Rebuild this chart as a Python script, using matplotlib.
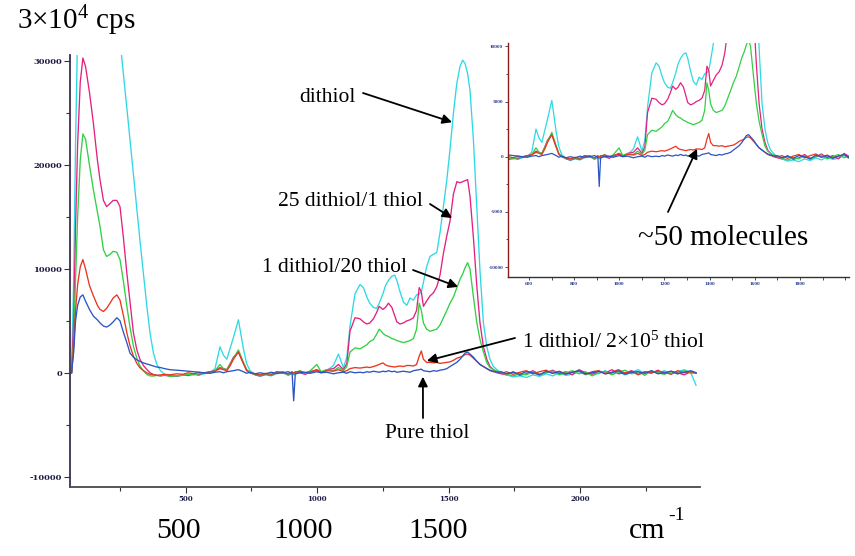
import matplotlib
matplotlib.use('Agg')
import matplotlib.pyplot as plt
from matplotlib.ticker import MultipleLocator

plt.rcParams['mathtext.fontset'] = 'custom'
plt.rcParams['mathtext.rm'] = 'Liberation Serif'
plt.rcParams['mathtext.it'] = 'Liberation Serif:italic'
plt.rcParams['mathtext.bf'] = 'Liberation Serif:bold'

# ---------------- data ----------------
wavenumber = [
    67, 75, 82, 90, 100, 110, 120, 135, 150, 165,
    175, 188, 200, 213, 225, 239, 251, 264, 277, 289,
    302, 315, 327, 340, 353, 365, 378, 391, 405, 420,
    440, 467, 490, 510, 530, 550, 570, 593, 612, 631,
    644, 657, 670, 682, 701, 720, 732, 745, 765, 783,
    805, 825, 847, 870, 890, 905, 911, 917, 935, 955,
    974, 999, 1015, 1037, 1062, 1081, 1100, 1113, 1125, 1144,
    1163, 1176, 1189, 1200, 1214, 1226, 1236, 1250, 1260, 1271,
    1284, 1295, 1303, 1315, 1328, 1341, 1353, 1366, 1378, 1388,
    1396, 1404, 1416, 1429, 1442, 1455, 1467, 1480, 1493, 1505,
    1518, 1531, 1543, 1553, 1562, 1572, 1581, 1594, 1607, 1619,
    1632, 1645, 1657, 1670, 1683, 1700, 1720, 1745, 1770, 1795,
    1820, 1845, 1870, 1895, 1920, 1945, 1970, 1995, 2020, 2045,
    2070, 2095, 2120, 2145, 2170, 2195, 2220, 2245, 2270, 2295,
    2320, 2345, 2370, 2395, 2420, 2440,
]

dithiol = [
    0, 9000, 22000, 33000, 42000, 48000, 52000, 54000, 55000, 54000,
    52000, 49000, 45000, 41000, 37000, 34000, 32000, 28800, 25500, 22400,
    19100, 15800, 12700, 9600, 6400, 3850, 1900, 800, 200, -150,
    -300, -350, -200, -280, -150, -250, -100, 0, 400, 2500,
    1700, 1300, 2400, 3400, 5100, 2300, 900, 200, -200, -350,
    -200, -300, -100, 0, -250, -100, -200, -150, 100, -100,
    0, 300, 100, 200, 700, 1800, 500, 1500, 4500, 7600,
    8500, 8200, 7300, 6700, 6300, 6200, 6700, 7600, 8400, 8900,
    9300, 9400, 8900, 7800, 6800, 6500, 7200, 7000, 7500, 7600,
    7800, 8700, 10200, 11200, 11400, 11600, 13500, 16000, 18600, 21500,
    25000, 27900, 29500, 30100, 29800, 28800, 27200, 22400, 15800, 9800,
    4800, 2500, 1280, 600, 300, 0, -200, -400, -300, -450,
    -200, -350, -100, -300, 0, -250, -150, 100, -200, 0,
    -100, 200, -150, 100, -200, 50, 300, -100, 150, -50,
    200, -100, 100, 300, 0, -1200,
]

dithiol_25_thiol_1 = [
    0, 5000, 14000, 22000, 28000, 30300, 29500, 27000, 24000, 20500,
    18600, 16600, 16000, 16300, 16600, 16600, 16000, 13000, 9600, 6800,
    3850, 2200, 1280, 700, 320, 0, -160, -250, -300, -250,
    -300, -320, -200, -250, -100, -200, 0, 100, 200, 500,
    400, 300, 900, 1500, 2000, 900, 300, 0, -200, -300,
    -150, -250, 0, 100, -200, 0, -100, 100, 0, -150,
    100, 200, 0, 300, 400, 800, 300, 900, 4000, 5300,
    5200, 4900, 4700, 4800, 5200, 5800, 6400, 6100, 6300, 6700,
    6300, 5500, 4900, 4700, 4800, 5000, 5100, 5300, 6000, 8200,
    7800, 6400, 6900, 7400, 7700, 8300, 9400, 11500, 13200, 14600,
    17200, 18400, 18300, 18400, 18500, 18600, 17000, 13000, 8300, 4800,
    2500, 1280, 600, 300, 0, -100, -200, 100, -250, -100,
    200, -150, 0, 250, -100, 100, -200, 300, 0, -150,
    150, -50, 300, -100, 0, 200, -150, 100, -50, 250,
    -100, 150, 0, -200, 100, 0,
]

dithiol_1_thiol_20 = [
    0, 3000, 9000, 15000, 20500, 23000, 22500, 20000, 17600, 15500,
    14100, 11850, 11200, 11400, 11700, 11600, 10900, 8800, 6400, 4400,
    2560, 1400, 640, 200, -160, -300, -320, -250, -300, -200,
    -350, -300, -250, -150, -200, -100, -50, 0, 200, 800,
    400, 300, 800, 1400, 2200, 1000, 300, 0, -150, -250,
    -100, -200, 100, 0, -150, 50, -100, 0, 200, -50,
    200, 800, 100, 300, 200, 500, 200, 600, 2000, 2400,
    2300, 2500, 2700, 3000, 3200, 3700, 4200, 3800, 3600, 3500,
    3300, 3200, 3100, 3000, 2900, 3000, 3100, 3300, 4200, 6700,
    6000, 4800, 4200, 4000, 4100, 4200, 4600, 5300, 6000, 6700,
    7300, 8200, 9000, 9500, 10100, 10600, 10000, 7300, 4800, 3200,
    2000, 960, 500, 300, 160, 0, -150, -300, -100, -200,
    100, -250, 50, 150, -200, 0, 200, -100, 100, -300,
    0, 150, -200, 50, 250, -100, 100, -250, 200, 0,
    -150, 100, -100, 200, -50, 0,
]

dithiol_1_thiol_2e5 = [
    0, 2500, 6000, 8500, 10200, 10900, 10000, 8400, 7400, 6500,
    6100, 5900, 6200, 6700, 7200, 7500, 7000, 5500, 3850, 2600,
    1600, 900, 480, 200, 0, -150, -200, -250, -200, -150,
    -200, -100, -150, 0, -100, 50, -50, 100, 150, 400,
    300, 200, 700, 1300, 2000, 900, 200, 0, -100, -200,
    -50, -150, 100, 0, -100, 100, -50, 50, 150, 0,
    100, 300, 50, 200, 150, 300, 100, 200, 400, 500,
    450, 500, 550, 500, 600, 700, 800, 950, 750, 650,
    600, 550, 600, 650, 600, 700, 700, 650, 800, 1600,
    2100, 1300, 1000, 1000, 950, 1000, 900, 950, 1000, 1050,
    1200, 1400, 1500, 1600, 1750, 1800, 1700, 1400, 1100, 800,
    600, 400, 200, 100, 50, -50, 100, -150, 50, 200,
    -100, 100, 250, -50, 150, -100, 50, 200, -150, 100,
    200, -100, 50, 300, -50, 150, -200, 100, 0, 150,
    50, -150, 200, 0, 100, -50,
]

pure_thiol = [
    0, 2000, 5000, 6500, 7300, 7500, 6900, 6100, 5450, 5100,
    4800, 4500, 4400, 4600, 4900, 5300, 5000, 3900, 2900, 1900,
    1500, 1250, 1100, 950, 850, 750, 650, 550, 500, 400,
    300, 250, 200, 150, 100, 50, 0, -50, 50, 100,
    0, 100, 150, 200, 300, 100, -50, 50, -100, 0,
    -100, 50, -50, 0, 100, -50, -2700, -100, 0, 50,
    -50, 100, 0, 50, -100, 0, 50, -50, 100, 0,
    50, 0, 100, 50, 150, 100, 50, 150, 100, 200,
    100, 150, 50, 100, 150, 100, 50, 200, 250, 300,
    350, 200, 150, 100, 200, 150, 250, 300, 400, 600,
    800, 1000, 1300, 1600, 1900, 2000, 1800, 1500, 1100, 800,
    600, 400, 250, 150, 50, 100, -100, 50, -150, 100,
    0, -200, 150, -50, 100, -150, 50, 200, -100, 0,
    150, -100, 0, 200, -150, 50, 100, -50, 200, -100,
    0, 150, -100, 50, 200, 0,
]

series_names = ['dithiol', '25 dithiol/1 thiol', '1 dithiol/20 thiol',
                '1 dithiol/ 2×10$^{5}$ thiol', 'Pure thiol']
series_values = [dithiol, dithiol_25_thiol_1, dithiol_1_thiol_20,
                 dithiol_1_thiol_2e5, pure_thiol]
series_colors = ['#2ed9e4', '#e4217f', '#33cf45', '#e8361f', '#2a55c4']

main_yticks = [-10000, 0, 10000, 20000, 30000]
main_xticks = [500, 1000, 1500, 2000]
inset_yticks = [-10000, -5000, 0, 5000, 10000]
inset_xticks = [600, 800, 1000, 1200, 1400, 1600, 1800]
big_x_labels = ['500', '1000', '1500']

SERIF = 'Liberation Serif'
W, H = 855, 556


def fx(px):
    return px / W


def fy(py):
    return 1 - py / H


fig = plt.figure(figsize=(8.55, 5.56), dpi=100)
fig.patch.set_facecolor('white')

# ---------------- main axes ----------------
ax = fig.add_axes([fx(70), fy(487), (700 - 70) / W, (487 - 55) / H])
for vals, col in zip(series_values, series_colors):
    ax.plot(wavenumber, vals, color=col, lw=0.95, solid_joinstyle='round')
ax.set_xlim(61, 2455)
ax.set_ylim(-11000, 30600)
for s in ['top', 'right']:
    ax.spines[s].set_visible(False)
ax.spines['left'].set_color('#3a3052')
ax.spines['bottom'].set_color('#4a4a4a')
ax.spines['left'].set_linewidth(1.3)
ax.spines['bottom'].set_linewidth(1.3)
ax.set_yticks(main_yticks)
ax.set_yticklabels([str(v) for v in main_yticks])
ax.yaxis.set_minor_locator(MultipleLocator(5000))
ax.set_xticks(main_xticks)
ax.set_xticklabels([str(v) for v in main_xticks])
ax.xaxis.set_minor_locator(MultipleLocator(250))
ax.tick_params(axis='both', which='major', direction='out', length=4, width=0.8,
               color='#333', pad=1.5)
ax.tick_params(axis='both', which='minor', direction='out', length=3, width=0.8,
               color='#333')
for lab in ax.get_yticklabels():
    lab.set_fontfamily('DejaVu Serif')
    lab.set_fontweight('bold')
    lab.set_fontsize(6)
    lab.set_color('#1c1c44')
for lab in ax.get_xticklabels():
    lab.set_fontfamily('DejaVu Serif')
    lab.set_fontweight('bold')
    lab.set_fontsize(5)
    lab.set_color('#1c1c44')

# ---------------- inset axes ----------------
axi = fig.add_axes([fx(508), fy(277), (849 - 508) / W, (277 - 43) / H])
axi.patch.set_alpha(0)
for vals, col in zip(series_values, series_colors):
    axi.plot(wavenumber, vals, color=col, lw=0.9, solid_joinstyle='round')
axi.set_xlim(507, 2017)
axi.set_ylim(-10900, 10300)
for s in ['top', 'right']:
    axi.spines[s].set_visible(False)
axi.spines['left'].set_color('#8a1c1c')
axi.spines['bottom'].set_color('#333')
axi.spines['left'].set_linewidth(1.0)
axi.spines['bottom'].set_linewidth(1.0)
axi.set_yticks(inset_yticks)
axi.set_yticklabels([str(v) for v in inset_yticks])
axi.yaxis.set_minor_locator(MultipleLocator(2500))
axi.set_xticks(inset_xticks)
axi.set_xticklabels([str(v) for v in inset_xticks])
axi.xaxis.set_minor_locator(MultipleLocator(100))
axi.tick_params(axis='both', which='major', direction='out', length=2.5, width=0.6,
                color='#333', pad=1)
axi.tick_params(axis='both', which='minor', direction='out', length=1.8, width=0.6,
                color='#333')
for lab in axi.get_yticklabels() + axi.get_xticklabels():
    lab.set_fontfamily('DejaVu Serif')
    lab.set_fontweight('bold')
    lab.set_fontsize(2.8)
    lab.set_color('#2a3a90')

# ---------------- texts ----------------
fig.text(fx(17), fy(21), '3×10$^{4}$ cps', fontsize=21, family=SERIF,
         ha='left', va='center')
for lab, px in zip(big_x_labels, [178, 303, 438]):
    fig.text(fx(px), fy(531), lab, fontsize=21.5, family=SERIF, ha='center', va='center')
fig.text(fx(629), fy(531), 'cm', fontsize=21.5, family=SERIF, ha='left', va='center')
fig.text(fx(668), fy(515), '-1', fontsize=14, family=SERIF, ha='left', va='center')

label_fs = 15.5
fig.text(fx(327), fy(97), series_names[0], fontsize=label_fs, family=SERIF,
         ha='center', va='center')
fig.text(fx(350), fy(202), series_names[1], fontsize=label_fs, family=SERIF,
         ha='center', va='center')
fig.text(fx(335), fy(267), series_names[2], fontsize=label_fs, family=SERIF,
         ha='center', va='center')
fig.text(fx(522), fy(342), series_names[3], fontsize=label_fs, family=SERIF,
         ha='left', va='center')
fig.text(fx(427), fy(433), series_names[4], fontsize=label_fs, family=SERIF,
         ha='center', va='center')
fig.text(fx(638), fy(238), '~50 molecules', fontsize=21, family=SERIF,
         ha='left', va='center')

arrow_kw = dict(arrowstyle='-|>', color='black', lw=1.3, mutation_scale=14,
                shrinkA=0, shrinkB=0)
main_arrows = [
    ((1513, 24130), (363, 93)),
    ((1513, 14900), (430, 204)),
    ((1536, 8270), (413, 270)),
    ((1417, 1150), (515, 338)),
    ((1402, -380), (423, 418)),
]
for tip, tail in main_arrows:
    ax.annotate('', xy=tip, xycoords='data',
                xytext=(fx(tail[0]), fy(tail[1])), textcoords='figure fraction',
                arrowprops=arrow_kw, annotation_clip=False)
axi.annotate('', xy=(1344, 720), xycoords='data',
             xytext=(fx(668), fy(212)), textcoords='figure fraction',
             arrowprops=arrow_kw, annotation_clip=False)

fig.savefig('out.png', dpi=100)
